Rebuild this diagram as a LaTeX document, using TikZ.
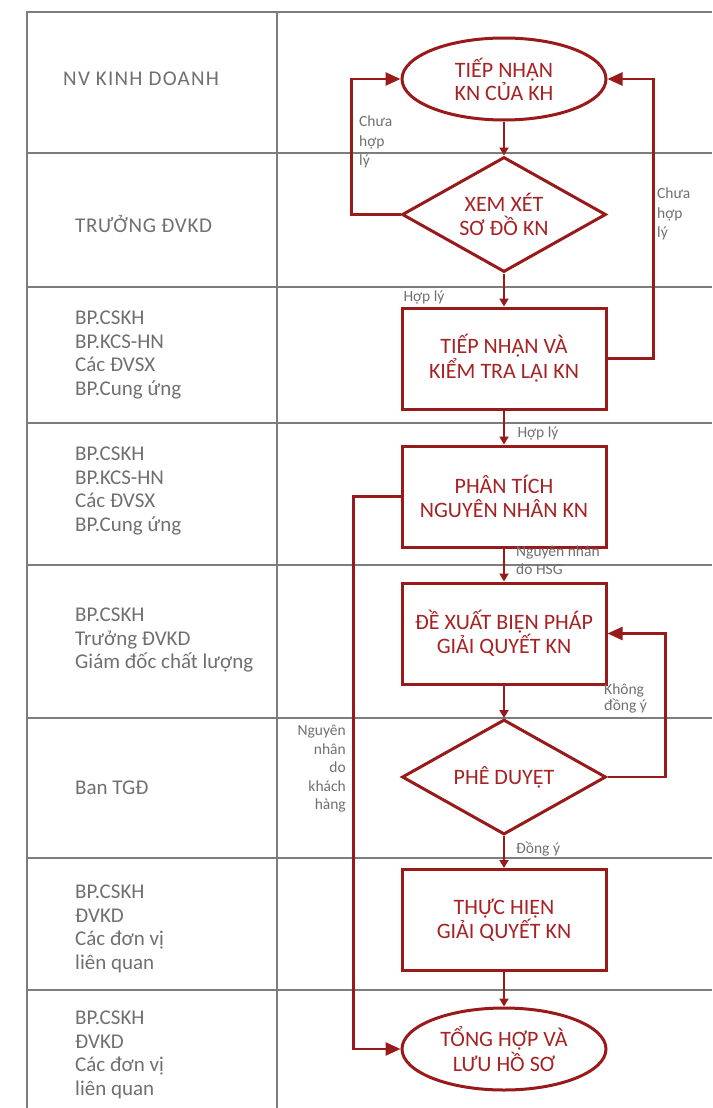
\documentclass[tikz,border=0pt]{standalone}
\usepackage{fontspec}
\setmainfont{Carlito}
\usetikzlibrary{shapes.geometric,arrows.meta}
\definecolor{flowred}{RGB}{152,26,26}
\definecolor{txtred}{RGB}{166,34,36}
\definecolor{labgray}{RGB}{112,112,112}
\definecolor{gridgray}{RGB}{125,125,125}
\begin{document}
\begin{tikzpicture}[x=1pt,y=-1pt,
 grid/.style={draw=gridgray,line width=1.3pt},
 lane/.style={font=\fontsize{21}{23.5}\selectfont, text=labgray, align=left, anchor=west, inner sep=0pt},
 proc/.style={draw=flowred,line width=3pt,minimum width=204pt,minimum height=101pt,text=txtred,font=\fontsize{22}{23.5}\selectfont,align=center,inner sep=0pt},
 term/.style={ellipse,draw=flowred,line width=3pt,minimum width=204pt,minimum height=82pt,text=txtred,font=\fontsize{22}{23}\selectfont,align=center,inner sep=0pt},
 decide/.style={diamond,draw=flowred,line width=3pt,minimum width=204pt,minimum height=115pt,inner sep=0pt},
 dlabel/.style={text=txtred,font=\fontsize{22}{24}\selectfont,align=center,inner sep=0pt},
 flow/.style={draw=flowred,line width=2.6pt,-{Triangle[length=8pt,width=9pt]}},
 bigflow/.style={draw=flowred,line width=2.6pt,-{Triangle[length=15pt,width=13pt]}},
 note/.style={font=\fontsize{15.5}{19.5}\selectfont,text=labgray,inner sep=0pt}
]
\fill[white] (0,0) rectangle (712,1108);
\useasboundingbox (0,0) rectangle (712,1108);
% table
\draw[grid] (27,1108) -- (27,12) -- (712,12);
\draw[grid] (277,12) -- (277,1108);
\foreach \yy in {153,287,423,565,718,858,990} \draw[grid] (27,\yy) -- (712,\yy);
% lane labels
\node[lane] (l1) at (63,79) {\addfontfeature{LetterSpace=6}NV KINH DOANH};
\node[lane] (l2) at (75,224) {\addfontfeature{LetterSpace=3}TRƯỞNG ĐVKD};
\node[lane] (l3) at (75,355) {BP.CSKH\\BP.KCS-HN\\Các ĐVSX\\BP.Cung ứng};
\node[lane] (l4) at (75,491) {BP.CSKH\\BP.KCS-HN\\Các ĐVSX\\BP.Cung ứng};
\node[lane] (l5) at (75,640) {BP.CSKH\\Trưởng ĐVKD\\Giám đốc chất lượng};
\node[lane] (l6) at (75,788) {Ban TGĐ};
\node[lane] (l7) at (75,929) {BP.CSKH\\ĐVKD\\Các đơn vị\\liên quan};
\node[lane] (l8) at (75,1055) {BP.CSKH\\ĐVKD\\Các đơn vị\\liên quan};
% flow nodes
\node[term] (t1) at (504,79) {TIẾP NHẬN\\KN CỦA KH};
\node[decide,label={[dlabel]center:{XEM XÉT\\SƠ ĐỒ KN}}] (d1) at (504,214.5) {};
\node[proc] (p1) at (504,358.5) {TIẾP NHẬN VÀ\\KIỂM TRA LẠI KN};
\node[proc] (p2) at (504,496.5) {PHÂN TÍCH\\NGUYÊN NHÂN KN};
\node[proc] (p3) at (504,633.5) {ĐỀ XUẤT BIỆN PHÁP\\GIẢI QUYẾT KN};
\node[decide,label={[dlabel]center:{PHÊ DUYỆT}}] (d2) at (504,777) {};
\node[proc] (p4) at (504,920) {THỰC HIỆN\\GIẢI QUYẾT KN};
\node[term] (t2) at (504,1049) {TỔNG HỢP VÀ\\LƯU HỒ SƠ};
% connectors
\draw[flow] (t1.south) -- (d1.north);
\draw[bigflow] (d1.west) -- ++(-49,0) |- (t1.west);
\draw[flow] (d1.south) -- (p1.north);
\draw[bigflow] (p1.east) -- ++(46,0) |- (t1.east);
\draw[flow] (p1.south) -- (p2.north);
\draw[flow] (p2.south) -- (p3.north);
\draw[bigflow] (p2.west) -- ++(-47,0) |- (t2.west);
\draw[flow] (p3.south) -- (d2.north);
\draw[bigflow] (d2.east) -- ++(58,0) |- (p3.east);
\draw[flow] (d2.south) -- (p4.north);
\draw[flow] (p4.south) -- (t2.north);
% connector labels
\node[note,align=left,anchor=north west] (n1) at (359,116) {Chưa\\hợp\\lý};
\node[note,align=left,anchor=north west] (n2) at (657,188) {Chưa\\hợp\\lý};
\node[note] (n3) at (424,297) {Hợp lý};
\node[note] (n4) at (538,433) {Hợp lý};
\node[note,align=left,anchor=north west,font=\fontsize{15.5}{18}\selectfont] (n5) at (516,546) {Nguyên nhân\\do HSG};
\node[note,align=right,anchor=north east,font=\fontsize{15.5}{18.5}\selectfont] (n6) at (346,725) {Nguyên\\nhân\\do\\khách\\hàng};
\node[note,align=left,anchor=north west,font=\fontsize{15.5}{16}\selectfont] (n7) at (604,684) {Không\\đồng ý};
\node[note,anchor=west] (n8) at (516,849) {Đồng ý};
\end{tikzpicture}
\end{document}
